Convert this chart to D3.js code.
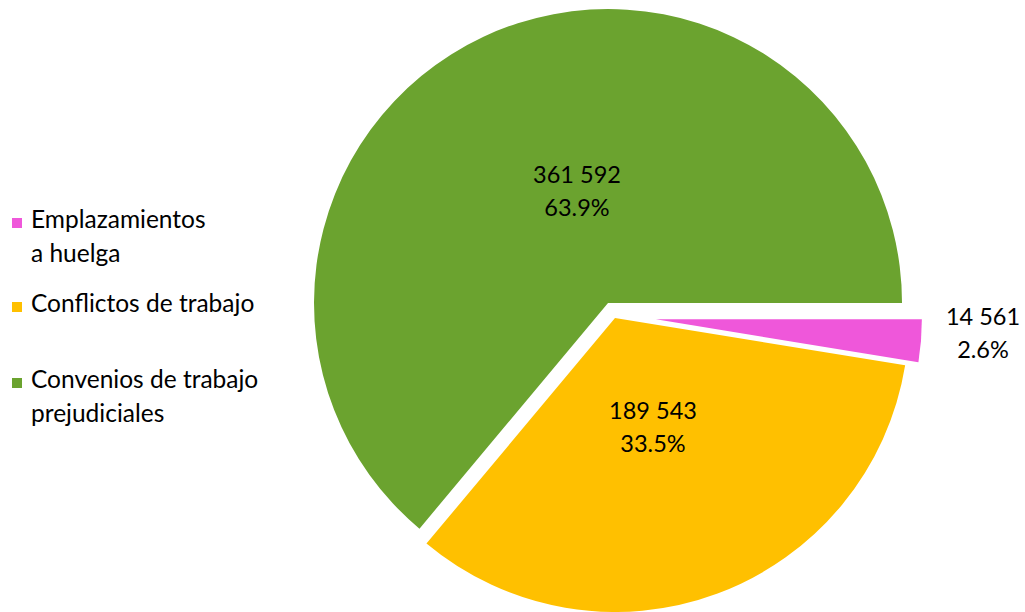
<!DOCTYPE html>
<html><head><meta charset="utf-8">
<script src="https://cdn.jsdelivr.net/npm/d3@7"></script>
<style>html,body{margin:0;padding:0;background:#fff;}svg{display:block;}</style>
</head><body>
<svg id="chart" width="1025" height="612"></svg>
<script>
// ---- data ----
const categories = ["Emplazamientos a huelga", "Conflictos de trabajo", "Convenios de trabajo prejudiciales"];
const legendLines = [["Emplazamientos", "a huelga"], ["Conflictos de trabajo"], ["Convenios de trabajo", "prejudiciales"]];
const values = [14561, 189543, 361592];
const valueLabels = ["14 561", "189 543", "361 592"];
const percentLabels = ["2.6%", "33.5%", "63.9%"];

// ---- styles / layout ----
const colors = ["#EF57DA", "#FFC000", "#6BA32F"];
const center = [615, 318];
const radii = [266, 294, 294];
const explode = [41, 0, 16.5];
const labelOffsets = [[368, 7], [38, 101], [-38, -135]]; // first-line baseline relative to pie center
const legendBaselines = [228, 312, 388];
const font = "Lato, 'Open Sans', sans-serif";
const fontSize = 23.5;
const legendFontSize = 24.5;
const lineGap = 33;

const svg = d3.select("#chart");
const pie = d3.pie().sort(null).value(d => d)
  .startAngle(Math.PI / 2).endAngle(Math.PI / 2 + 2 * Math.PI);
const arcs = pie(values);

const g = svg.append("g").attr("transform", `translate(${center[0]},${center[1]})`);
g.selectAll("path").data(arcs).join("path")
  .attr("d", (d, i) => d3.arc().innerRadius(0).outerRadius(radii[i])(d))
  .attr("fill", (d, i) => colors[i])
  .attr("transform", (d, i) => {
    const a = (d.startAngle + d.endAngle) / 2;
    return `translate(${Math.sin(a) * explode[i]},${-Math.cos(a) * explode[i] - (i === 0 ? 2 : 0)})`;
  });

// data labels
const lab = g.selectAll("g.lab").data(arcs).join("g").attr("class", "lab")
  .attr("transform", (d, i) => `translate(${labelOffsets[i][0]},${labelOffsets[i][1]})`);
lab.append("text").attr("text-anchor", "middle").attr("font-family", font).attr("font-size", fontSize)
  .attr("fill", "#000").text((d, i) => valueLabels[i]);
lab.append("text").attr("text-anchor", "middle").attr("font-family", font).attr("font-size", fontSize)
  .attr("y", lineGap).attr("fill", "#000").text((d, i) => percentLabels[i]);

// legend
const leg = svg.append("g").selectAll("g").data(categories).join("g")
  .attr("transform", (d, i) => `translate(0,${legendBaselines[i]})`);
leg.append("rect").attr("x", 12).attr("y", -10).attr("width", 10).attr("height", 10)
  .attr("fill", (d, i) => colors[i]);
leg.each(function (d, i) {
  const t = d3.select(this).append("text").attr("font-family", font).attr("font-size", legendFontSize).attr("fill", "#000");
  legendLines[i].forEach((line, j) => {
    t.append("tspan").attr("x", 31).attr("y", j * 34).text(line);
  });
});
</script>
</body></html>
